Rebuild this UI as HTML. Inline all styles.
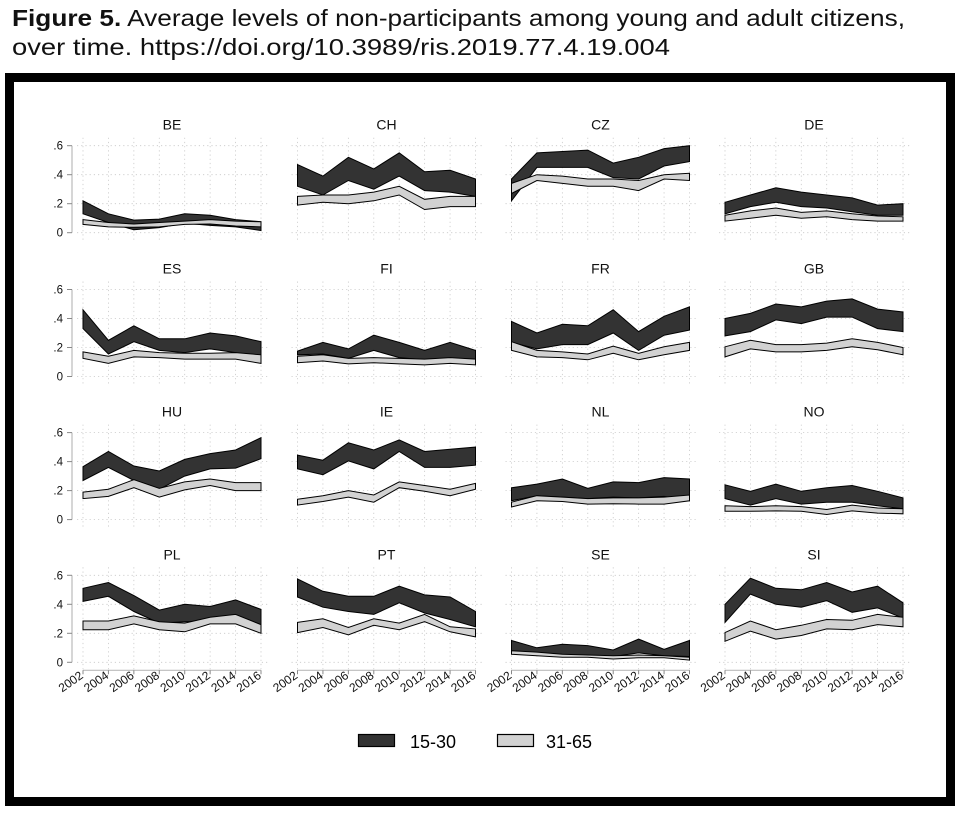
<!DOCTYPE html>
<html><head><meta charset="utf-8"><style>
html,body{margin:0;padding:0;background:#fff;}
svg{display:block;font-family:"Liberation Sans",Arial,sans-serif;}
</style></head><body>
<svg id="chart" width="960" height="813" viewBox="0 0 960 813" xmlns="http://www.w3.org/2000/svg">
<text x="12" y="26" font-size="23" textLength="893" lengthAdjust="spacingAndGlyphs" fill="#111"><tspan font-weight="bold">Figure 5.</tspan> Average levels of non-participants among young and adult citizens,</text>
<text x="12" y="55" font-size="23" textLength="658" lengthAdjust="spacingAndGlyphs" fill="#111">over time. https://doi.org/10.3989/ris.2019.77.4.19.004</text>
<rect x="9.5" y="77.5" width="941" height="724" fill="#fff" stroke="#000" stroke-width="9"/>
<g id="panels"></g>
<g>
<rect x="358.5" y="734.5" width="36" height="12" fill="#333" stroke="#000" stroke-width="1.2"/>
<text x="410" y="748" font-size="18" fill="#000">15-30</text>
<rect x="497.5" y="734.5" width="36" height="12" fill="#d2d2d2" stroke="#000" stroke-width="1.2"/>
<text x="546" y="748" font-size="18" fill="#000">31-65</text>
</g>
</svg>
<script>
const countries = ["BE","CH","CZ","DE","ES","FI","FR","GB","HU","IE","NL","NO","PL","PT","SE","SI"];
const years = [2002,2004,2006,2008,2010,2012,2014,2016];
const yTicks = [0,0.2,0.4,0.6];
const yTickLabels = ["0",".2",".4",".6"];
const youngHi = [
[.22,.13,.087,.094,.13,.12,.09,.076],
[.47,.39,.52,.44,.55,.42,.43,.37],
[.37,.55,.56,.57,.48,.52,.58,.60],
[.21,.26,.31,.28,.26,.24,.19,.20],
[.46,.25,.35,.26,.26,.30,.28,.24],
[.175,.235,.19,.285,.235,.18,.235,.18],
[.38,.30,.36,.35,.46,.31,.415,.48],
[.40,.435,.50,.48,.52,.535,.465,.445],
[.365,.47,.37,.335,.415,.455,.48,.565],
[.445,.41,.53,.48,.55,.47,.485,.50],
[.22,.245,.28,.215,.26,.255,.29,.28],
[.24,.195,.245,.195,.22,.235,.195,.15],
[.51,.55,.46,.36,.40,.385,.43,.365],
[.575,.49,.455,.455,.525,.465,.45,.35],
[.15,.10,.125,.115,.085,.16,.09,.15],
[.40,.58,.51,.50,.55,.485,.525,.41]];
const youngLo = [
[.13,.07,.02,.035,.065,.05,.04,.015],
[.32,.26,.36,.30,.39,.29,.28,.25],
[.22,.45,.45,.45,.38,.37,.46,.49],
[.13,.18,.21,.18,.17,.145,.12,.12],
[.33,.155,.24,.18,.165,.19,.165,.13],
[.15,.155,.125,.18,.13,.115,.125,.115],
[.235,.19,.22,.22,.30,.18,.285,.32],
[.28,.31,.39,.365,.41,.41,.33,.31],
[.27,.36,.27,.21,.30,.35,.355,.42],
[.35,.31,.405,.35,.47,.36,.36,.375],
[.13,.165,.155,.145,.155,.15,.16,.13],
[.145,.10,.145,.107,.12,.12,.095,.075],
[.42,.455,.35,.27,.28,.285,.315,.245],
[.45,.38,.35,.33,.41,.34,.295,.245],
[.075,.065,.05,.045,.04,.065,.045,.04],
[.275,.47,.40,.38,.425,.345,.375,.305]];
const adultHi = [
[.09,.07,.06,.07,.08,.09,.08,.075],
[.25,.26,.26,.28,.32,.23,.25,.25],
[.34,.40,.39,.37,.37,.36,.40,.41],
[.12,.15,.17,.14,.15,.13,.115,.11],
[.17,.14,.18,.165,.16,.16,.165,.15],
[.14,.15,.125,.13,.125,.12,.13,.12],
[.24,.18,.17,.155,.21,.16,.205,.235],
[.205,.25,.22,.22,.23,.26,.235,.20],
[.19,.21,.275,.215,.26,.28,.255,.255],
[.14,.165,.20,.17,.26,.235,.21,.25],
[.12,.165,.155,.145,.15,.15,.155,.17],
[.095,.09,.095,.09,.07,.10,.08,.075],
[.285,.285,.32,.28,.27,.31,.33,.26],
[.275,.30,.24,.30,.27,.33,.245,.23],
[.08,.07,.055,.05,.045,.05,.045,.035],
[.205,.285,.225,.255,.295,.29,.33,.31]];
const adultLo = [
[.057,.04,.037,.04,.057,.06,.046,.04],
[.19,.21,.20,.22,.26,.16,.18,.18],
[.27,.36,.34,.32,.32,.29,.37,.36],
[.08,.10,.12,.10,.11,.09,.08,.08],
[.125,.09,.135,.13,.12,.12,.12,.09],
[.095,.107,.087,.095,.087,.08,.09,.08],
[.18,.135,.13,.115,.16,.115,.15,.18],
[.135,.19,.17,.17,.18,.205,.185,.15],
[.145,.16,.22,.155,.205,.235,.20,.20],
[.10,.125,.155,.12,.22,.195,.165,.21],
[.087,.13,.125,.107,.11,.107,.107,.13],
[.057,.057,.06,.057,.035,.06,.045,.04],
[.225,.225,.265,.225,.21,.265,.265,.20],
[.205,.24,.19,.255,.225,.28,.21,.175],
[.055,.045,.035,.035,.023,.032,.032,.015],
[.145,.215,.16,.185,.23,.225,.26,.245]];

const NS = "http://www.w3.org/2000/svg";
const colX = [83, 297.5, 511.5, 725];
const rowY0 = [232.7, 376.5, 519.6, 662.3];
const plotW = 178, yScale = 145;
const root = document.getElementById("panels");
function mk(tag, attrs, parent){const e=document.createElementNS(NS,tag);for(const k in attrs)e.setAttribute(k,attrs[k]);parent.appendChild(e);return e;}
function xPos(c, yr){return colX[c] + (yr - years[0]) / (years[years.length-1]-years[0]) * plotW;}
function yPos(r, v){return rowY0[r] - v * yScale;}
function bandPath(c, r, hi, lo){
  let d = "";
  years.forEach((yr,i)=>{d += (i? "L":"M") + xPos(c,yr).toFixed(1) + "," + yPos(r,hi[i]).toFixed(1);});
  for(let i=years.length-1;i>=0;i--){d += "L" + xPos(c,years[i]).toFixed(1) + "," + yPos(r,lo[i]).toFixed(1);}
  return d + "Z";
}
countries.forEach((name, idx)=>{
  const c = idx % 4, r = Math.floor(idx / 4);
  const g = mk("g", {}, root);
  
  
  const left = colX[c] - 6, right = colX[c] + plotW + 7;
  const top = yPos(r, 0.6) - 8, bot = rowY0[r] + 10;
  yTicks.forEach(v=>{
    const l = mk("line", {x1:left, x2:right, y1:yPos(r,v), y2:yPos(r,v), stroke:"#c8c8c8", "stroke-width":0.8, "stroke-dasharray":"1.2,3"}, g);
    
    
  });
  years.forEach(yr=>{
    const l = mk("line", {x1:xPos(c,yr), x2:xPos(c,yr), y1:top, y2:bot, stroke:"#c8c8c8", "stroke-width":0.8, "stroke-dasharray":"1.2,3"}, g);
    
    
  });
  const t = mk("text", {x: colX[c] + plotW/2, y: yPos(r,0.6) - 16, "font-size":14, "text-anchor":"middle", fill:"#111"}, g);
  t.textContent = name;
  
  
  const by = mk("path", {d: bandPath(c, r, youngHi[idx], youngLo[idx]), fill:"#333", stroke:"#000", "stroke-width":1, "stroke-linejoin":"miter"}, g);
  
  
  const ba = mk("path", {d: bandPath(c, r, adultHi[idx], adultLo[idx]), fill:"#d2d2d2", stroke:"#000", "stroke-width":1}, g);
  
  
  if (c === 0) {
    const ax = mk("line", {x1:72, x2:72, y1:yPos(r,0.6), y2:yPos(r,0), stroke:"#bbb", "stroke-width":1.2}, g);
    
    
    yTicks.forEach((v,i)=>{
      const tk = mk("line", {x1:67, x2:72, y1:yPos(r,v), y2:yPos(r,v), stroke:"#888", "stroke-width":1}, g);
      
      
      const lb = mk("text", {x:63, y:yPos(r,v)+4, "font-size":11.5, "text-anchor":"end", fill:"#111"}, g);
      lb.textContent = yTickLabels[i];
      
      
    });
  }
  if (r === 3) {
    const ay = rowY0[r] + 8;
    const ax = mk("line", {x1:xPos(c,years[0]), x2:xPos(c,years[years.length-1]), y1:ay, y2:ay, stroke:"#bbb", "stroke-width":1.2}, g);
    
    
    years.forEach(yr=>{
      const x = xPos(c,yr);
      const tk = mk("line", {x1:x, x2:x, y1:ay, y2:ay+4, stroke:"#888", "stroke-width":1}, g);
      
      
      const lb = mk("text", {x:x+1, y:ay+7, "font-size":12, "text-anchor":"end", fill:"#111", transform:"rotate(-35 "+(x+1)+" "+(ay+7)+")"}, g);
      lb.textContent = String(yr);
      
      
    });
  }
});
</script>
</body></html>
